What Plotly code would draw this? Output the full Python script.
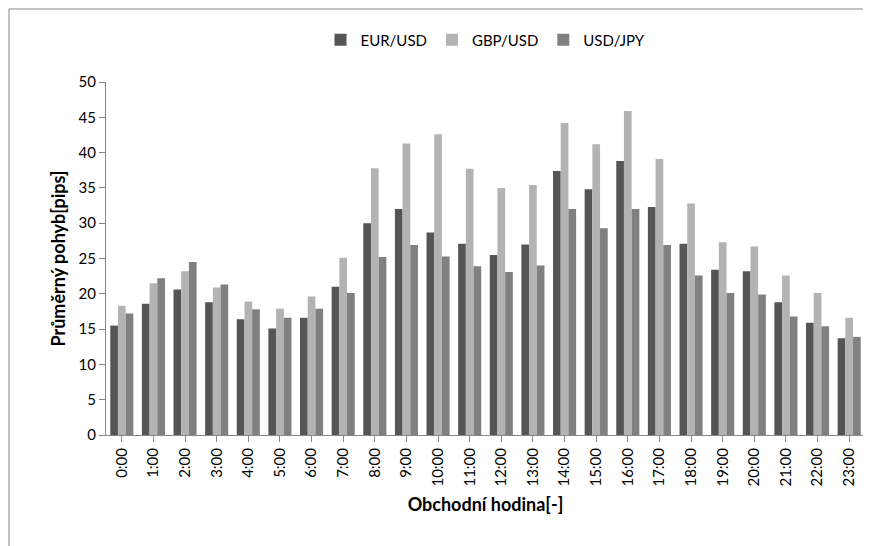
import plotly.graph_objects as go

hours = [f"{h}:00" for h in range(24)]
eur = [15.5,18.6,20.6,18.8,16.4,15.1,16.6,21.0,30.0,32.0,28.7,27.1,25.5,27.0,37.4,34.8,38.8,32.3,27.1,23.4,23.2,18.8,15.9,13.7]
gbp = [18.3,21.5,23.2,20.9,18.9,17.9,19.6,25.1,37.8,41.3,42.6,37.7,35.0,35.4,44.2,41.2,45.9,39.1,32.8,27.3,26.7,22.6,20.1,16.6]
jpy = [17.2,22.2,24.5,21.3,17.8,16.6,17.9,20.1,25.2,26.9,25.3,23.9,23.1,24.0,32.0,29.3,32.0,26.9,22.6,20.1,19.9,16.8,15.4,13.9]
names = ["EUR/USD", "GBP/USD", "USD/JPY"]
colors = ["#555555", "#b3b3b3", "#808080"]

fig = go.Figure()
for n, v, c in zip(names, [eur, gbp, jpy], colors):
    fig.add_trace(go.Bar(x=hours, y=v, name=n, marker_color=c, marker_line_width=0))

fig.update_layout(
    width=871, height=546, plot_bgcolor="white", paper_bgcolor="white",
    font=dict(family="Lato, Liberation Sans", size=15, color="black"),
    margin=dict(l=98, r=14, t=74, b=119, autoexpand=False),
    bargap=0.27, bargroupgap=0,
    legend=dict(orientation="h", x=0.5, xanchor="center", y=1.119, yanchor="middle", font=dict(size=15)),
    xaxis=dict(title=dict(text="<b>Obchodní hodina[-]</b>", standoff=12), tickangle=-90, automargin=False,
               showline=True, linecolor="#888", ticks="outside", tickcolor="#888", ticklen=6),
    yaxis=dict(title=dict(text="<b>Průměrný pohyb[pips]</b>", standoff=8), range=[0, 50], dtick=5, automargin=False,
               showline=True, linecolor="#888", ticks="outside", tickcolor="#888", ticklen=6,
               showgrid=False, zeroline=False),
    shapes=[dict(type="rect", xref="paper", yref="paper", x0=-0.1278, x1=1.0158, y0=-0.331, y1=1.2068,
                 line=dict(color="#888", width=1))],
)
fig.write_html("out.html")
